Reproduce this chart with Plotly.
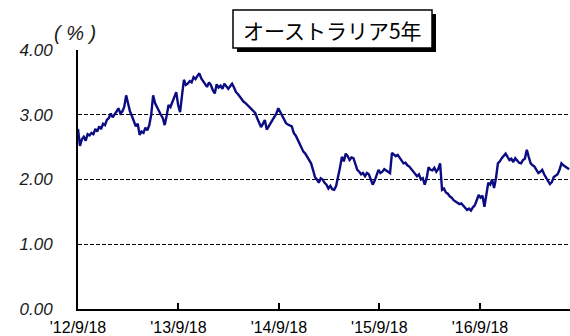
import pandas as pd
import plotly.graph_objects as go

# Australian 5-year government bond yield (%), weekly observations
start_date = "2012-09-18"
yield_pct = [
    2.78, 2.52, 2.62, 2.66, 2.60, 2.70, 2.68, 2.72, 2.70, 2.78,
    2.74, 2.82, 2.78, 2.86, 2.84, 2.92, 2.95, 3.02, 2.96, 3.00,
    3.05, 3.10, 3.02, 3.05, 3.12, 3.30, 3.15, 3.05, 2.98, 2.90,
    2.82, 2.86, 2.69, 2.74, 2.72, 2.80, 2.76, 2.84, 3.00, 3.30,
    3.18, 3.12, 3.05, 3.00, 2.95, 2.84, 2.98, 3.15, 3.12, 3.20,
    3.25, 3.35, 3.15, 3.04, 3.30, 3.54, 3.46, 3.48, 3.52, 3.50,
    3.58, 3.55, 3.60, 3.64, 3.56, 3.52, 3.48, 3.43, 3.50, 3.46,
    3.38, 3.33, 3.47, 3.42, 3.45, 3.40, 3.48, 3.44, 3.40, 3.44,
    3.48, 3.42, 3.35, 3.32, 3.28, 3.24, 3.20, 3.18, 3.15, 3.12,
    3.08, 3.05, 3.03, 2.95, 2.89, 2.81, 2.86, 2.92, 2.77, 2.82,
    2.89, 2.92, 2.97, 3.02, 3.10, 3.04, 2.97, 2.92, 2.87, 2.85,
    2.84, 2.82, 2.72, 2.68, 2.62, 2.56, 2.50, 2.43, 2.40, 2.35,
    2.30, 2.25, 2.15, 2.04, 2.00, 1.95, 2.02, 2.00, 1.95, 1.92,
    1.86, 1.90, 1.85, 1.84, 1.90, 2.02, 2.18, 2.35, 2.28, 2.40,
    2.36, 2.30, 2.34, 2.33, 2.25, 2.15, 2.12, 2.08, 2.10, 2.05,
    2.10, 2.08, 2.00, 1.92, 1.98, 2.08, 2.15, 2.10, 2.12, 2.16,
    2.14, 2.12, 2.10, 2.41, 2.38, 2.36, 2.38, 2.33, 2.30, 2.25,
    2.26, 2.22, 2.20, 2.16, 2.12, 2.08, 2.05, 2.08, 2.00, 2.02,
    1.92, 2.02, 2.19, 2.15, 2.14, 2.18, 2.12, 2.16, 2.25, 1.84,
    1.86, 1.80, 1.78, 1.74, 1.72, 1.68, 1.66, 1.64, 1.62, 1.63,
    1.60, 1.56, 1.53, 1.55, 1.52, 1.57, 1.60, 1.68, 1.76, 1.72,
    1.75, 1.58, 1.80, 1.95, 1.92, 2.00, 1.87, 2.02, 2.25, 2.28,
    2.33, 2.36, 2.40, 2.35, 2.30, 2.32, 2.27, 2.33, 2.30, 2.26,
    2.25, 2.30, 2.32, 2.46, 2.35, 2.25, 2.22, 2.20, 2.15, 2.10,
    2.12, 2.15, 2.08, 2.02, 1.98, 1.93, 1.96, 2.04, 2.06, 2.08,
    2.15, 2.25, 2.22, 2.20, 2.18, 2.16,
]
dates = pd.date_range(start_date, periods=len(yield_pct), freq="7D")

tick_dates = ["2012-09-18", "2013-09-18", "2014-09-18", "2015-09-18", "2016-09-18"]
tick_labels = ["'12/9/18", "'13/9/18", "'14/9/18", "'15/9/18", "'16/9/18"]
y_ticks = [0, 1, 2, 3, 4]
y_labels = ["0.00", "1.00", "2.00", "3.00", "4.00"]
title_text = "オーストラリア5年"
unit_text = "( % )"

W, H = 570, 336
ML, MR, MT, MB = 78, 0, 50, 27
PW, PH = W - ML - MR, H - MT - MB


def px_x(px):
    return (px - ML) / PW


def px_y(py):
    return (H - MB - py) / PH


fig = go.Figure()
fig.add_trace(go.Scatter(
    x=dates, y=yield_pct, mode="lines",
    line=dict(color="#0c0c82", width=2.4),
    hoverinfo="skip", showlegend=False,
))

fig.update_layout(
    width=W, height=H,
    margin=dict(l=ML, r=MR, t=MT, b=MB, pad=0),
    paper_bgcolor="white", plot_bgcolor="white",
    xaxis=dict(
        range=["2012-09-18", "2017-08-11"],
        tickvals=tick_dates, ticktext=tick_labels,
        ticks="inside", ticklen=6, tickwidth=1.5, tickcolor="black",
        showgrid=False, zeroline=False,
        showline=True, linecolor="black", linewidth=2,
        tickfont=dict(family="Liberation Sans, Arial", size=16, color="black"),
        ticklabelstandoff=3,
    ),
    yaxis=dict(
        range=[0, 4],
        tickvals=y_ticks, ticktext=y_labels,
        ticks="", showgrid=True, gridcolor="black", gridwidth=1,
        griddash="4px,2px", zeroline=False,
        showline=True, linecolor="black", linewidth=2,
        tickfont=dict(family="Liberation Sans, Arial", size=17, color="#1a1a1a",
                      style="italic"),
        ticklabelstandoff=20,
    ),
    shapes=[
        dict(type="rect", xref="paper", yref="paper",
             x0=px_x(237), x1=px_x(436), y0=px_y(52), y1=px_y(14),
             fillcolor="black", line=dict(width=0), layer="above"),
        dict(type="rect", xref="paper", yref="paper",
             x0=px_x(233), x1=px_x(432), y0=px_y(48), y1=px_y(10),
             fillcolor="white", line=dict(color="black", width=1.5),
             layer="above"),
    ],
    annotations=[
        dict(text=title_text, xref="paper", yref="paper",
             x=px_x(332.5), y=px_y(29.5), xanchor="center", yanchor="middle",
             showarrow=False,
             font=dict(family="Noto Sans CJK JP", size=21, color="black")),
        dict(text=unit_text, xref="paper", yref="paper",
             x=px_x(75), y=px_y(33), xanchor="center", yanchor="middle",
             showarrow=False,
             font=dict(family="Liberation Sans, Arial", size=20, color="#1a1a1a",
                       style="italic")),
    ],
)

fig.write_html("out.html")
